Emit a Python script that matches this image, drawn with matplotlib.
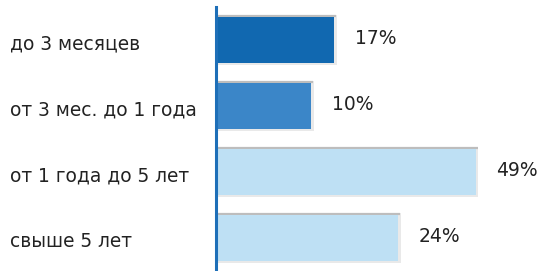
import matplotlib
matplotlib.use('Agg')
import matplotlib.pyplot as plt
import matplotlib.transforms as mtransforms

categories = ['до 3 месяцев', 'от 3 мес. до 1 года', 'от 1 года до 5 лет', 'свыше 5 лет']
shares = [17, 10, 49, 24]
# bar lengths as drawn in the source (not proportional to the shares)
bar_len = [21.9, 17.6, 48.1, 33.7]
colors = ['#1168b0', '#3b86c8', '#bee0f4', '#bee0f4']

plt.rcParams['font.family'] = ['DejaVu Sans']

fig = plt.figure(figsize=(5.4, 2.71), dpi=100)
ax = fig.add_axes([0.4, 0.0, 0.6, 0.974])

ypos = list(range(len(categories)))
h = 0.7

# soft shadow/frame behind each bar
ax.barh(ypos, [v + 0.5 for v in bar_len], height=h + 0.07, color='#e9e9e9', zorder=1)
ax.barh(ypos, bar_len, height=h, color=colors, zorder=2)
# gray top edge
for y, v in zip(ypos, bar_len):
    ax.plot([0, v + 0.4], [y - h / 2 - 0.015, y - h / 2 - 0.015], color='#bdbdbd', lw=1.6,
            zorder=1.5, solid_capstyle='butt')

for y, v, s in zip(ypos, bar_len, shares):
    ax.text(v + 3.8, y - 0.03, f'{s}%', va='center', ha='left', fontsize=13.5, color='#222222')

trans = mtransforms.blended_transform_factory(fig.transFigure, ax.transData)
for y, c in zip(ypos, categories):
    ax.text(10 / 540, y + 0.06, c, transform=trans, va='center', ha='left',
            fontsize=13.4, color='#222222')

ax.set_xlim(0, 60)
ax.set_ylim(3.5, -0.5)
ax.set_xticks([])
ax.set_yticks([])
for sp in ['top', 'right', 'bottom']:
    ax.spines[sp].set_visible(False)
ax.spines['left'].set_color('#1e6fb8')
ax.spines['left'].set_linewidth(2.2)
ax.spines['left'].set_zorder(5)

fig.savefig('out.png', dpi=100)
